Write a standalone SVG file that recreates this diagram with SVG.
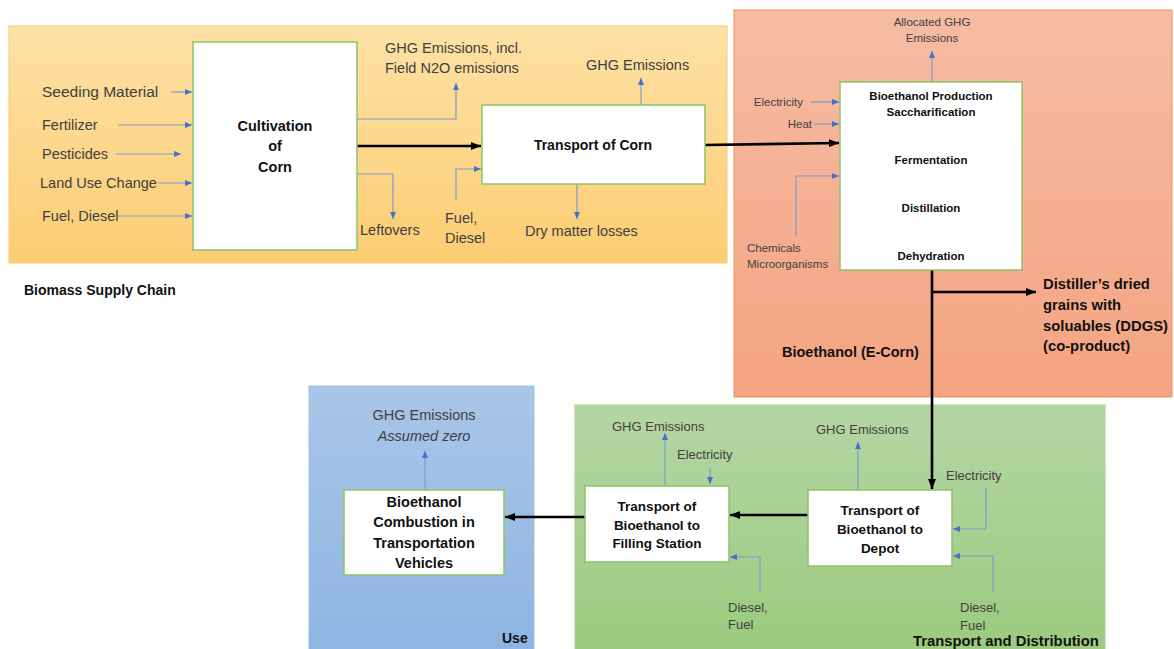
<svg xmlns="http://www.w3.org/2000/svg" width="1174" height="649" viewBox="0 0 1174 649">
<defs>
<linearGradient id="gY" x1="0" y1="0" x2="0" y2="1"><stop offset="0" stop-color="#FEE1A6"/><stop offset="1" stop-color="#FCCD72"/></linearGradient>
<linearGradient id="gS" x1="0" y1="0" x2="0" y2="1"><stop offset="0" stop-color="#F6BCA4"/><stop offset="1" stop-color="#F4A481"/></linearGradient>
<linearGradient id="gG" x1="0" y1="0" x2="0" y2="1"><stop offset="0" stop-color="#B5D6A4"/><stop offset="1" stop-color="#9BCA7D"/></linearGradient>
<linearGradient id="gB" x1="0" y1="0" x2="0" y2="1"><stop offset="0" stop-color="#AAC6E8"/><stop offset="1" stop-color="#8DB4E2"/></linearGradient>
<marker id="ab" markerUnits="userSpaceOnUse" markerWidth="7" markerHeight="6" refX="7" refY="3" orient="auto"><path d="M0,0 L7,3 L0,6 z" fill="#4472C4"/></marker>
<marker id="ak" markerUnits="userSpaceOnUse" markerWidth="10" markerHeight="8" refX="10" refY="4" orient="auto"><path d="M0,0 L10,4 L0,8 z" fill="#000"/></marker>
</defs>
<style>
.box{fill:#fff;stroke:#8CC36A;stroke-width:1.5}
.lb{font-family:"Liberation Sans",Arial,sans-serif;fill:#404040}
.bd{font-family:"Liberation Sans",Arial,sans-serif;font-weight:bold;fill:#111}
.bl{fill:none;stroke:#7C9BD0;stroke-width:1.2;marker-end:url(#ab)}
.bk{fill:none;stroke:#000;stroke-width:2.6;marker-end:url(#ak)}
.y{font-size:14.5px}
.s{font-size:11.5px}
.g{font-size:13px}
</style>
<g id="panels">
<rect id="panel-biomass" x="9" y="26" width="718" height="237" fill="url(#gY)" stroke="#F8C878" stroke-width="1"/>
<rect id="panel-bioethanol" x="734" y="10" width="438" height="387" fill="url(#gS)" stroke="#F29060" stroke-width="1"/>
<rect id="panel-transport" x="575" y="405" width="530" height="250" fill="url(#gG)" stroke="#A9D18E" stroke-width="1"/>
<rect id="panel-use" x="309" y="386" width="225" height="269" fill="url(#gB)" stroke="#9DC3E6" stroke-width="1"/>
</g>
<g id="connectors">
<path class="bl" d="M171,92 H192"/>
<path class="bl" d="M118,125 H192"/>
<path class="bl" d="M116,154 H181"/>
<path class="bl" d="M158,183 H192"/>
<path class="bl" d="M118,216 H192"/>
<path class="bl" d="M357,119 H456 V83"/>
<path class="bl" d="M357,174 H393 V219"/>
<path class="bk" d="M357,146 H481"/>
<path class="bl" d="M456,200 V169 H481"/>
<path class="bl" d="M641,105 V78"/>
<path class="bl" d="M577,184 V219"/>
<path class="bk" d="M705,145 L839,143"/>
<path class="bl" d="M932,82 V51"/>
<path class="bl" d="M811,102 H839"/>
<path class="bl" d="M814,124 H839"/>
<path class="bl" d="M796,236 V176 H839"/>
<path class="bl" d="M927,132 V146"/>
<path class="bl" d="M927,177 V193"/>
<path class="bl" d="M927,225 V241"/>
<path class="bk" d="M932,270 V489"/>
<path class="bk" d="M932,292 H1036"/>
<path class="bl" d="M858,490 V442"/>
<path class="bl" d="M986,488 V529 H953"/>
<path class="bl" d="M993,592 V556 H953"/>
<path class="bk" d="M808,515 H730"/>
<path class="bl" d="M665,486 V433"/>
<path class="bl" d="M710,468 V484"/>
<path class="bl" d="M760,592 V557 H730"/>
<path class="bk" d="M585,517 H505"/>
<path class="bl" d="M425,490 V451"/>
</g>
<g id="labels-biomass">
<text class="lb" x="42" y="97" font-size="15.5">Seeding Material</text>
<text class="lb y" x="42" y="130">Fertilizer</text>
<text class="lb y" x="42" y="159">Pesticides</text>
<text class="lb y" x="40" y="188">Land Use Change</text>
<text class="lb y" x="42" y="221">Fuel, Diesel</text>
<text class="lb y" x="385" y="53">GHG Emissions, incl.</text>
<text class="lb y" x="385" y="73">Field N2O emissions</text>
<text class="lb y" x="586" y="70">GHG Emissions</text>
<text class="lb y" x="360" y="235">Leftovers</text>
<text class="lb y" x="445" y="223">Fuel,</text>
<text class="lb y" x="445" y="243">Diesel</text>
<text class="lb y" x="525" y="236">Dry matter losses</text>
<text class="bd" x="24" y="295" font-size="14">Biomass Supply Chain</text>
</g>
<g id="node-cultivation">
<rect class="box" x="193" y="42" width="164" height="208"/>
<text class="bd" x="275" y="131" font-size="14.5" text-anchor="middle">Cultivation</text>
<text class="bd" x="275" y="151" font-size="14.5" text-anchor="middle">of</text>
<text class="bd" x="275" y="172" font-size="14.5" text-anchor="middle">Corn</text>
</g>
<g id="node-transport-corn">
<rect class="box" x="482" y="105" width="223" height="79"/>
<text class="bd" x="593" y="150" font-size="14" text-anchor="middle">Transport of Corn</text>
</g>
<g id="node-bioethanol">
<rect class="box" x="840" y="82" width="182" height="188"/>
<text class="bd" x="931" y="100" font-size="11.5" text-anchor="middle">Bioethanol Production</text>
<text class="bd" x="931" y="116" font-size="11.5" text-anchor="middle">Saccharification</text>
<text class="bd" x="931" y="164" font-size="11.5" text-anchor="middle">Fermentation</text>
<text class="bd" x="931" y="212" font-size="11.5" text-anchor="middle">Distillation</text>
<text class="bd" x="931" y="260" font-size="11.5" text-anchor="middle">Dehydration</text>
</g>
<g id="labels-bioethanol">
<text class="lb s" x="932" y="26" text-anchor="middle">Allocated GHG</text>
<text class="lb s" x="932" y="42" text-anchor="middle">Emissions</text>
<text class="lb s" x="803" y="106" text-anchor="end">Electricity</text>
<text class="lb s" x="812" y="128" text-anchor="end">Heat</text>
<text class="lb s" x="747" y="252">Chemicals</text>
<text class="lb s" x="747" y="268">Microorganisms</text>
<text class="bd" x="1043" y="289" font-size="14.8">Distiller’s dried</text>
<text class="bd" x="1043" y="310" font-size="14.8">grains with</text>
<text class="bd" x="1043" y="331" font-size="14.8">soluables (DDGS)</text>
<text class="bd" x="1043" y="351" font-size="14.8">(co-product)</text>
<text class="bd" x="782" y="357" font-size="14.5">Bioethanol (E-Corn)</text>
</g>
<g id="node-depot">
<rect class="box" x="808" y="490" width="144" height="76"/>
<text class="bd" x="880" y="515" font-size="13.5" text-anchor="middle">Transport of</text>
<text class="bd" x="880" y="534" font-size="13.5" text-anchor="middle">Bioethanol to</text>
<text class="bd" x="880" y="553" font-size="13.5" text-anchor="middle">Depot</text>
</g>
<g id="node-filling">
<rect class="box" x="585" y="486" width="144" height="76"/>
<text class="bd" x="657" y="511" font-size="13.5" text-anchor="middle">Transport of</text>
<text class="bd" x="657" y="530" font-size="13.5" text-anchor="middle">Bioethanol to</text>
<text class="bd" x="657" y="548" font-size="13.5" text-anchor="middle">Filling Station</text>
</g>
<g id="labels-transport">
<text class="lb g" x="612" y="431">GHG Emissions</text>
<text class="lb g" x="677" y="459">Electricity</text>
<text class="lb g" x="728" y="612">Diesel,</text>
<text class="lb g" x="728" y="629">Fuel</text>
<text class="lb g" x="816" y="434">GHG Emissions</text>
<text class="lb g" x="946" y="480">Electricity</text>
<text class="lb g" x="960" y="612">Diesel,</text>
<text class="lb g" x="960" y="630">Fuel</text>
<text class="bd" x="913" y="646" font-size="14.8">Transport and Distribution</text>
</g>
<g id="node-combustion">
<rect class="box" x="344" y="490" width="160" height="85"/>
<text class="bd" x="424" y="507" font-size="14.5" text-anchor="middle">Bioethanol</text>
<text class="bd" x="424" y="527" font-size="14.5" text-anchor="middle">Combustion in</text>
<text class="bd" x="424" y="548" font-size="14.5" text-anchor="middle">Transportation</text>
<text class="bd" x="424" y="568" font-size="14.5" text-anchor="middle">Vehicles</text>
</g>
<g id="labels-use">
<text class="lb y" x="424" y="420" text-anchor="middle">GHG Emissions</text>
<text class="lb y" x="424" y="441" text-anchor="middle" font-style="italic">Assumed zero</text>
<text class="bd" x="502" y="643" font-size="14">Use</text>
</g>
</svg>
